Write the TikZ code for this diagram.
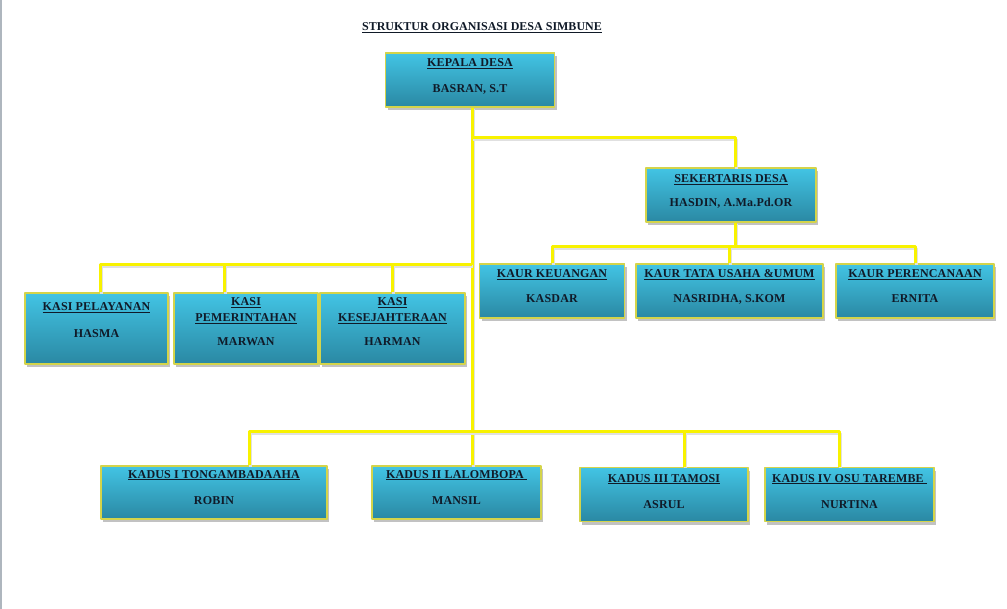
\documentclass[tikz,border=0pt]{standalone}
\usepackage{fontspec}
\setmainfont{Liberation Serif}
\newfontfamily\boxfont[LetterSpace=1.5]{Liberation Serif}
\usetikzlibrary{shadows}
\definecolor{boxtop}{HTML}{42C4E4}
\definecolor{boxbottom}{HTML}{2A88A3}
\definecolor{boxrim}{HTML}{D4D44A}
\definecolor{linkyellow}{HTML}{F8F200}
\definecolor{inktext}{HTML}{101a28}
\definecolor{pageedge}{HTML}{AEB6BE}

\begin{document}
\begin{tikzpicture}[
  x=1pt,
  y=-1pt,
  line join=round,
  unit/.style={draw=boxrim,line width=1.2pt,top color=boxtop,bottom color=boxbottom,
    drop shadow={shadow xshift=2pt,shadow yshift=-3pt,fill=black!40,opacity=0.6},
    align=center,inner sep=2pt,text=inktext,font=\boxfont\bfseries\fontsize{12}{14}\selectfont,
    minimum height=54pt},
  lift/.style={text height=#1,text depth=0pt},
  link/.style={draw=linkyellow,line width=3pt,
    preaction={draw=black!12,line width=3pt,transform canvas={shift={(1pt,-1.5pt)}}}},
  heading/.style={text=inktext,font=\bfseries\fontsize{12}{14}\selectfont}
]
  \useasboundingbox (0,0) rectangle (1007,609);
  \fill[pageedge] (0,0) rectangle (2,609);

  \node[heading] (judul) at (482,28) {\underline{STRUKTUR ORGANISASI DESA SIMBUNE}};

  % Top of the chart.
  \node[unit,lift=26pt,minimum width=169pt] (kepala) at (470,80) {\underline{KEPALA DESA}\\[12pt]BASRAN, S.T};
  \node[unit,lift=24pt,minimum width=170pt] (sek) at (731,195) {\underline{SEKERTARIS DESA}\\[10pt]HASDIN, A.Ma.Pd.OR};

  % Kaur row, under the secretary.
  \node[unit,lift=24pt,minimum width=145pt] (keu) at (552,291) {\underline{KAUR KEUANGAN}\\[11pt]KASDAR};
  \node[unit,lift=24pt,minimum width=187pt] (tata) at (729.5,291) {\underline{KAUR TATA USAHA \&UMUM}\\[11pt]NASRIDHA, S.KOM};
  \node[unit,lift=24pt,minimum width=158pt] (ren) at (915,291) {\underline{KAUR PERENCANAAN}\\[11pt]ERNITA};

  % Kasi row.
  \node[unit,lift=19pt,minimum width=143pt,minimum height=71pt] (pel) at (96.5,328.5) {\underline{KASI PELAYANAN}\\[13pt]HASMA};
  \node[unit,lift=35pt,minimum width=144pt,minimum height=71pt] (pem) at (246,328.5) {\underline{KASI}\\[2pt]\underline{PEMERINTAHAN}\\[10pt]MARWAN};
  \node[unit,lift=35pt,minimum width=145pt,minimum height=71pt] (kes) at (392.5,328.5) {\underline{KASI}\\[2pt]\underline{KESEJAHTERAAN}\\[10pt]HARMAN};

  % Kadus row.
  \node[unit,lift=23pt,minimum width=226pt,minimum height=53pt] (kadus1) at (214,492.5) {\underline{KADUS I TONGAMBADAAHA}\\[12pt]ROBIN};
  \node[unit,lift=23pt,minimum width=169pt,minimum height=53pt] (kadus2) at (456.5,492.5) {\underline{KADUS II LALOMBOPA }\\[12pt]MANSIL};
  \node[unit,lift=27pt,minimum width=168pt] (kadus3) at (664,494.5) {\underline{KADUS III TAMOSI}\\[12pt]ASRUL};
  \node[unit,lift=27pt,minimum width=169pt] (kadus4) at (849.5,494.5) {\underline{KADUS IV OSU TAREMBE }\\[12pt]NURTINA};

  % Junctions on the connectors.
  \coordinate (jsek) at (472,138);
  \coordinate (jkasi) at (472,265);
  \coordinate (jkadus) at (472,432);

  \draw[link] ([xshift=2pt]kepala.south) -- ([xshift=2pt]kepala.south |- kadus2.north);
  \draw[link] (jsek) -| ([xshift=4pt]sek.north);
  \draw[link] ([xshift=4pt]sek.south) -- ++(0,24) coordinate (jkaur);
  \draw[link] (keu.north) |- (jkaur) -| (ren.north);
  \draw[link] (tata.north) -- (tata.north |- jkaur);
  \draw[link] ([xshift=4pt]pel.north) |- (jkasi);
  \draw[link] ([xshift=-22pt]pem.north) -- ([xshift=-22pt]pem.north |- jkasi);
  \draw[link] (kes.north) -- (kes.north |- jkasi);
  \draw[link] ([xshift=35pt]kadus1.north) |- (jkadus) -| ([xshift=-10.5pt]kadus4.north);
  \draw[link] ([xshift=20pt]kadus3.north) -- ([xshift=20pt]kadus3.north |- jkadus);
\end{tikzpicture}
\end{document}
